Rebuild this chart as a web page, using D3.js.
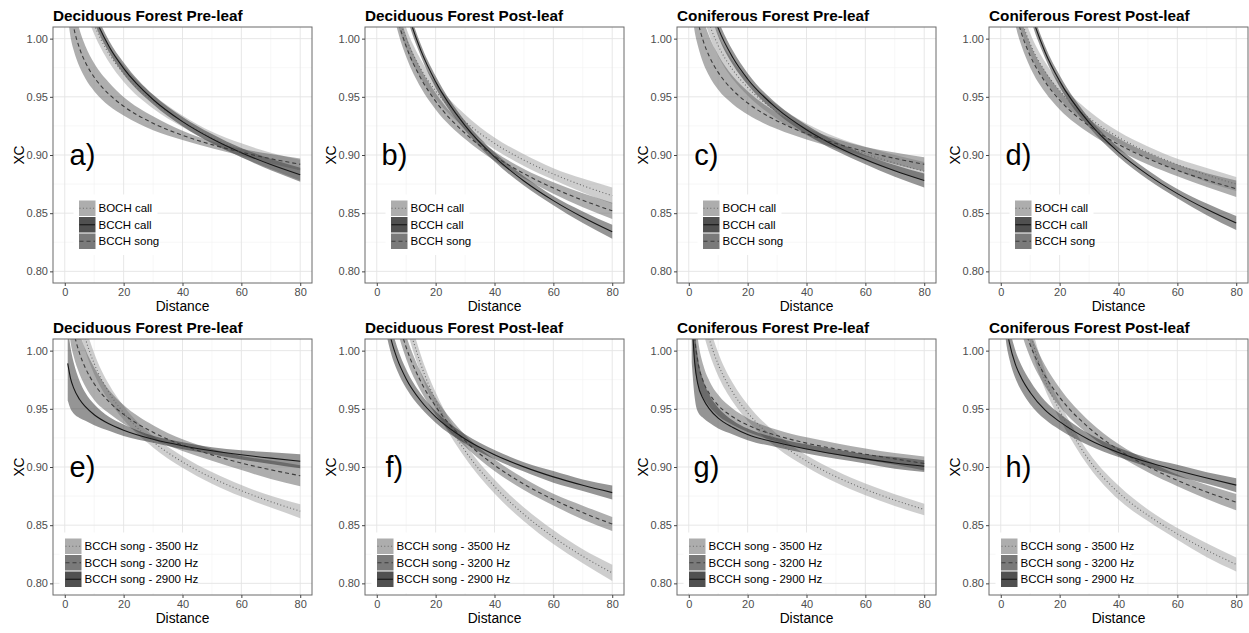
<!DOCTYPE html>
<html>
<head>
<meta charset="utf-8">
<script src="https://cdn.jsdelivr.net/npm/d3@7"></script>
<style>
  body { margin: 0; background: #fff; }
  svg { font-family: "Liberation Sans", Arial, sans-serif; }
  .grid-major { stroke: #e4e4e4; stroke-width: 0.9; }
  .grid-minor { stroke: #f1f1f1; stroke-width: 0.6; }
  .axis text { fill: #4d4d4d; font-size: 11px; }
  .axis line { stroke: #444; }
  .axis path { display: none; }
  .title { font-size: 15.3px; font-weight: bold; fill: #000; }
  .axis-title { font-size: 13.8px; fill: #000; }
  .letter { font-size: 29px; fill: #000; }
  .legend-text { font-size: 11.5px; fill: #000; }
</style>
</head>
<body>
<div id="vis"><svg></svg></div>
<script>
const distance = [1, 2, 3, 5, 7, 10, 15, 20, 30, 40, 50, 60, 70, 80];
const xTicks = [0, 20, 40, 60, 80];
const yTicks = [0.80, 0.85, 0.90, 0.95, 1.00];
const xMinor = [10, 30, 50, 70];
const yMinor = [0.825, 0.875, 0.925, 0.975];

const forestTitles = ["Deciduous Forest Pre-leaf", "Deciduous Forest Post-leaf",
  "Coniferous Forest Pre-leaf", "Coniferous Forest Post-leaf"];
const panelLetters = ["a)", "b)", "c)", "d)", "e)", "f)", "g)", "h)"];
const callLabels = ["BOCH call", "BCCH call", "BCCH song"];
const songLabels = ["BCCH song - 3500 Hz", "BCCH song - 3200 Hz", "BCCH song - 2900 Hz"];

// XC fits, rows follow legend order; ci = half width of the ribbon
const xcA = [
  [1.150, 1.108, 1.084, 1.053, 1.033, 1.012, 0.987, 0.970, 0.946, 0.929, 0.915, 0.904, 0.895, 0.887],
  [1.172, 1.1265, 1.0997, 1.066, 1.0438, 1.0202, 0.9935, 0.9745, 0.9477, 0.9287, 0.914, 0.902, 0.8918, 0.883],
  [1.0498, 1.0248, 1.0102, 0.9918, 0.9797, 0.9668, 0.9523, 0.9419, 0.9273, 0.9169, 0.9089, 0.9024, 0.8968, 0.892]];
const ciA = [
  [0.012, 0.011, 0.010, 0.009, 0.009, 0.008, 0.007, 0.007, 0.006, 0.005, 0.005, 0.006, 0.007, 0.009],
  [0.008, 0.008, 0.007, 0.007, 0.006, 0.006, 0.005, 0.005, 0.004, 0.004, 0.004, 0.004, 0.005, 0.006],
  [0.030, 0.024, 0.020, 0.016, 0.014, 0.012, 0.010, 0.008, 0.006, 0.004, 0.003, 0.003, 0.004, 0.005]];

const xcB = [
  [1.1498, 1.1048, 1.0784, 1.0452, 1.0233, 1.0001, 0.9738, 0.9551, 0.9288, 0.910, 0.8956, 0.8837, 0.8737, 0.865],
  [1.2415, 1.1771, 1.1393, 1.0919, 1.0605, 1.0273, 0.9897, 0.9629, 0.9252, 0.8984, 0.8777, 0.8608, 0.8465, 0.834],
  [1.150, 1.1029, 1.0752, 1.0406, 1.0176, 0.9934, 0.9658, 0.9462, 0.9187, 0.8991, 0.884, 0.8716, 0.8611, 0.852]];
const ciB = [
  [0.014, 0.013, 0.012, 0.011, 0.010, 0.009, 0.008, 0.007, 0.006, 0.005, 0.005, 0.005, 0.006, 0.007],
  [0.008, 0.008, 0.007, 0.007, 0.006, 0.006, 0.005, 0.005, 0.004, 0.004, 0.004, 0.004, 0.005, 0.006],
  [0.014, 0.013, 0.012, 0.011, 0.010, 0.009, 0.008, 0.007, 0.005, 0.004, 0.004, 0.005, 0.006, 0.007]];

const xcC = [
  [1.1139, 1.0778, 1.0567, 1.0302, 1.0127, 0.9941, 0.973, 0.9581, 0.937, 0.922, 0.9104, 0.901, 0.893, 0.886],
  [1.1541, 1.1104, 1.0848, 1.0527, 1.0315, 1.009, 0.9835, 0.9653, 0.9398, 0.9217, 0.9076, 0.8961, 0.8864, 0.878],
  [1.0585, 1.0322, 1.0168, 0.9974, 0.9846, 0.971, 0.9556, 0.9447, 0.9293, 0.9183, 0.9099, 0.9029, 0.8971, 0.892]];
const ciC = [
  [0.014, 0.013, 0.012, 0.011, 0.010, 0.009, 0.008, 0.007, 0.006, 0.005, 0.005, 0.006, 0.007, 0.008],
  [0.009, 0.009, 0.008, 0.008, 0.007, 0.007, 0.006, 0.005, 0.004, 0.004, 0.004, 0.004, 0.005, 0.006],
  [0.032, 0.026, 0.022, 0.019, 0.017, 0.015, 0.012, 0.010, 0.007, 0.005, 0.004, 0.004, 0.005, 0.006]];

const xcD = [
  [1.1292, 1.089, 1.0654, 1.0358, 1.0163, 0.9956, 0.9721, 0.9554, 0.9319, 0.9152, 0.9023, 0.8917, 0.8828, 0.875],
  [1.2271, 1.1661, 1.1304, 1.0855, 1.0559, 1.0245, 0.9888, 0.9635, 0.9278, 0.9025, 0.8829, 0.8668, 0.8533, 0.8415],
  [1.112, 1.0739, 1.0516, 1.0235, 1.005, 0.9853, 0.9631, 0.9472, 0.925, 0.9091, 0.8969, 0.8868, 0.8784, 0.871]];
const ciD = [
  [0.014, 0.013, 0.012, 0.011, 0.010, 0.009, 0.008, 0.007, 0.006, 0.005, 0.005, 0.005, 0.006, 0.006],
  [0.008, 0.008, 0.007, 0.007, 0.006, 0.006, 0.005, 0.005, 0.004, 0.004, 0.004, 0.004, 0.005, 0.006],
  [0.018, 0.016, 0.014, 0.012, 0.011, 0.010, 0.009, 0.008, 0.006, 0.005, 0.005, 0.005, 0.006, 0.007]];

const xcE = [
  [1.1293, 1.087, 1.0623, 1.0312, 1.0106, 0.9888, 0.9641, 0.9465, 0.9218, 0.9043, 0.8907, 0.8796, 0.8702, 0.862],
  [1.059, 1.0327, 1.0173, 0.9979, 0.9851, 0.9715, 0.9561, 0.9452, 0.9298, 0.9188, 0.9104, 0.9034, 0.8976, 0.8925],
  [0.9891, 0.9758, 0.968, 0.9582, 0.9518, 0.9449, 0.9371, 0.9316, 0.9238, 0.9183, 0.914, 0.9105, 0.9076, 0.905]];
const ciE = [
  [0.020, 0.018, 0.016, 0.013, 0.011, 0.009, 0.007, 0.006, 0.005, 0.005, 0.005, 0.005, 0.005, 0.006],
  [0.030, 0.026, 0.022, 0.018, 0.016, 0.014, 0.010, 0.008, 0.006, 0.005, 0.005, 0.006, 0.008, 0.009],
  [0.032, 0.026, 0.022, 0.016, 0.012, 0.009, 0.006, 0.005, 0.003, 0.003, 0.003, 0.004, 0.005, 0.006]];

const xcF = [
  [1.2779, 1.2037, 1.1603, 1.1057, 1.0697, 1.0315, 0.9881, 0.9573, 0.914, 0.8832, 0.8593, 0.8398, 0.8233, 0.809],
  [1.1709, 1.1203, 1.0907, 1.0534, 1.0288, 1.0028, 0.9732, 0.9522, 0.9226, 0.9016, 0.8853, 0.872, 0.8608, 0.851],
  [1.084, 1.0514, 1.0323, 1.0083, 0.9925, 0.9757, 0.9567, 0.9431, 0.9241, 0.9106, 0.9001, 0.8915, 0.8843, 0.878]];
const ciF = [
  [0.016, 0.015, 0.014, 0.012, 0.011, 0.010, 0.008, 0.007, 0.006, 0.006, 0.006, 0.006, 0.006, 0.007],
  [0.016, 0.015, 0.014, 0.012, 0.011, 0.010, 0.008, 0.007, 0.005, 0.005, 0.005, 0.005, 0.006, 0.006],
  [0.020, 0.016, 0.014, 0.012, 0.010, 0.008, 0.006, 0.005, 0.004, 0.004, 0.004, 0.005, 0.005, 0.006]];

const xcG = [
  [1.1264, 1.0848, 1.0605, 1.0299, 1.0097, 0.9882, 0.9639, 0.9467, 0.9224, 0.9051, 0.8917, 0.8808, 0.8715, 0.8635],
  [1.06, 1.012, 0.992, 0.973, 0.963, 0.953, 0.943, 0.936, 0.927, 0.9205, 0.9155, 0.911, 0.907, 0.903],
  [1.03, 0.99, 0.972, 0.958, 0.950, 0.942, 0.934, 0.928, 0.921, 0.9155, 0.911, 0.907, 0.9035, 0.9007]];
const ciG = [
  [0.020, 0.018, 0.016, 0.014, 0.012, 0.010, 0.008, 0.007, 0.006, 0.005, 0.005, 0.005, 0.005, 0.005],
  [0.030, 0.025, 0.020, 0.014, 0.011, 0.009, 0.007, 0.006, 0.005, 0.005, 0.005, 0.005, 0.005, 0.006],
  [0.040, 0.030, 0.024, 0.016, 0.012, 0.009, 0.006, 0.005, 0.004, 0.004, 0.004, 0.004, 0.005, 0.005]];

const xcH = [
  [1.2459, 1.1766, 1.136, 1.0853, 1.0517, 1.016, 0.975, 0.9485, 0.906, 0.878, 0.8585, 0.8425, 0.8285, 0.8163],
  [1.1546, 1.1096, 1.0832, 1.05, 1.0281, 1.005, 0.9786, 0.9599, 0.9336, 0.9148, 0.9004, 0.8885, 0.8785, 0.8698],
  [1.045, 1.02, 1.006, 0.988, 0.9765, 0.964, 0.949, 0.939, 0.9235, 0.9125, 0.904, 0.897, 0.8905, 0.8844]];
const ciH = [
  [0.016, 0.015, 0.014, 0.012, 0.011, 0.010, 0.008, 0.007, 0.006, 0.006, 0.005, 0.005, 0.006, 0.006],
  [0.016, 0.015, 0.014, 0.013, 0.012, 0.011, 0.009, 0.008, 0.006, 0.005, 0.005, 0.005, 0.006, 0.007],
  [0.020, 0.016, 0.014, 0.012, 0.011, 0.010, 0.008, 0.007, 0.005, 0.004, 0.004, 0.005, 0.005, 0.006]];

const panelMeans = [xcA, xcB, xcC, xcD, xcE, xcF, xcG, xcH];
const panelCi = [ciA, ciB, ciC, ciD, ciE, ciF, ciG, ciH];

// line type per legend entry, top row then bottom row
const callTypes = ["dotted", "solid", "dashed"];
const songTypes = ["dotted", "dashed", "solid"];
const typeStyle = {
  dotted: {fill: "#999", stroke: "#6a6a6a", dash: "1,2.4", key: "#adadad"},
  dashed: {fill: "#555", stroke: "#3c3c3c", dash: "4,3", key: "#7a7a7a"},
  solid:  {fill: "#222", stroke: "#161616", dash: null, key: "#505050"}
};

const W = 1249, H = 633;
const pw = 259, ph = 256;

const svg = d3.select("#vis").select("svg")
  .attr("width", W)
  .attr("height", H);

panelMeans.forEach((means, p) => {
  const row = Math.floor(p / 4), col = p % 4;
  const left = 53 + 312 * col;
  const top = 27 + 312 * row;
  const cis = panelCi[p];
  const labels = row === 0 ? callLabels : songLabels;
  const types = row === 0 ? callTypes : songTypes;

  const x = d3.scaleLinear().domain([-4, 84]).range([left, left + pw]);
  const y = d3.scaleLinear().domain([0.79, 1.01]).range([top + ph, top]);

  const g = svg.append("g").attr("class", "panel");

  // grid
  g.selectAll(".gx-minor").data(xMinor).enter().append("line")
    .attr("class", "grid-minor")
    .attr("x1", d => x(d)).attr("x2", d => x(d))
    .attr("y1", top).attr("y2", top + ph);
  g.selectAll(".gy-minor").data(yMinor).enter().append("line")
    .attr("class", "grid-minor")
    .attr("y1", d => y(d)).attr("y2", d => y(d))
    .attr("x1", left).attr("x2", left + pw);
  g.selectAll(".gx-major").data(xTicks).enter().append("line")
    .attr("class", "grid-major")
    .attr("x1", d => x(d)).attr("x2", d => x(d))
    .attr("y1", top).attr("y2", top + ph);
  g.selectAll(".gy-major").data(yTicks).enter().append("line")
    .attr("class", "grid-major")
    .attr("y1", d => y(d)).attr("y2", d => y(d))
    .attr("x1", left).attr("x2", left + pw);

  const clipId = "clip" + p;
  svg.append("clipPath").attr("id", clipId)
    .append("rect").attr("x", left).attr("y", top).attr("width", pw).attr("height", ph);

  const plot = g.append("g").attr("clip-path", `url(#${clipId})`);

  const area = (m, c) => d3.area()
    .x((d, i) => x(distance[i]))
    .y0((d, i) => y(m[i] - c[i]))
    .y1((d, i) => y(m[i] + c[i]))
    .curve(d3.curveMonotoneX)(m);

  const line = d3.line()
    .x((d, i) => x(distance[i]))
    .y(d => y(d))
    .curve(d3.curveMonotoneX);

  means.forEach((m, s) => {
    plot.append("path")
      .attr("d", area(m, cis[s]))
      .attr("fill", typeStyle[types[s]].fill)
      .attr("fill-opacity", 0.48);
  });
  means.forEach((m, s) => {
    const st = typeStyle[types[s]];
    plot.append("path")
      .attr("d", line(m))
      .attr("fill", "none")
      .attr("stroke", st.stroke)
      .attr("stroke-width", 1.1)
      .attr("stroke-dasharray", st.dash);
  });

  // legend inside the panel
  const legLeft = row === 0 ? left + 26 : left + 12;
  const legTop = row === 0 ? top + 173 : top + 199;
  const legW = row === 0 ? 84 : 136;
  const keySize = 16.5;
  const leg = g.append("g");
  leg.append("rect")
    .attr("x", legLeft - 5.5).attr("y", legTop - 5.5)
    .attr("width", legW).attr("height", keySize * 3 + 11)
    .attr("fill", "#fff");
  labels.forEach((lab, s) => {
    const st = typeStyle[types[s]];
    const ky = legTop + s * keySize;
    leg.append("rect")
      .attr("x", legLeft).attr("y", ky + 0.5)
      .attr("width", keySize).attr("height", keySize - 1)
      .attr("fill", st.key);
    leg.append("line")
      .attr("x1", legLeft + 0.5).attr("x2", legLeft + keySize - 0.5)
      .attr("y1", ky + keySize / 2).attr("y2", ky + keySize / 2)
      .attr("stroke", st.stroke)
      .attr("stroke-width", 1.1)
      .attr("stroke-dasharray", st.dash);
    leg.append("text")
      .attr("class", "legend-text")
      .attr("x", legLeft + keySize + 3)
      .attr("y", ky + keySize / 2 + 4)
      .text(lab);
  });

  // panel border
  g.append("rect")
    .attr("x", left).attr("y", top)
    .attr("width", pw).attr("height", ph)
    .attr("fill", "none")
    .attr("stroke", "#6b6b6b")
    .attr("stroke-width", 1);

  // axes
  g.append("g")
    .attr("class", "axis")
    .attr("transform", `translate(${left},0)`)
    .call(d3.axisLeft(y).tickValues(yTicks).tickSize(3).tickPadding(2).tickFormat(d3.format(".2f")));
  g.append("g")
    .attr("class", "axis")
    .attr("transform", `translate(0,${top + ph})`)
    .call(d3.axisBottom(x).tickValues(xTicks).tickSize(3).tickPadding(2));
  g.selectAll(".axis text").attr("font-family", null).attr("font-size", null);

  g.append("text")
    .attr("class", "axis-title")
    .attr("x", left + pw / 2)
    .attr("y", top + ph + 28)
    .attr("text-anchor", "middle")
    .text("Distance");
  g.append("text")
    .attr("class", "axis-title")
    .attr("transform", `translate(${left - 29},${top + ph / 2}) rotate(-90)`)
    .attr("text-anchor", "middle")
    .text("XC");

  g.append("text")
    .attr("class", "title")
    .attr("x", left)
    .attr("y", top - 6)
    .text(forestTitles[col]);

  g.append("text")
    .attr("class", "letter")
    .attr("x", x(6))
    .attr("y", y(0.90) + 10)
    .attr("text-anchor", "middle")
    .text(panelLetters[p]);
});
</script>
</body>
</html>
